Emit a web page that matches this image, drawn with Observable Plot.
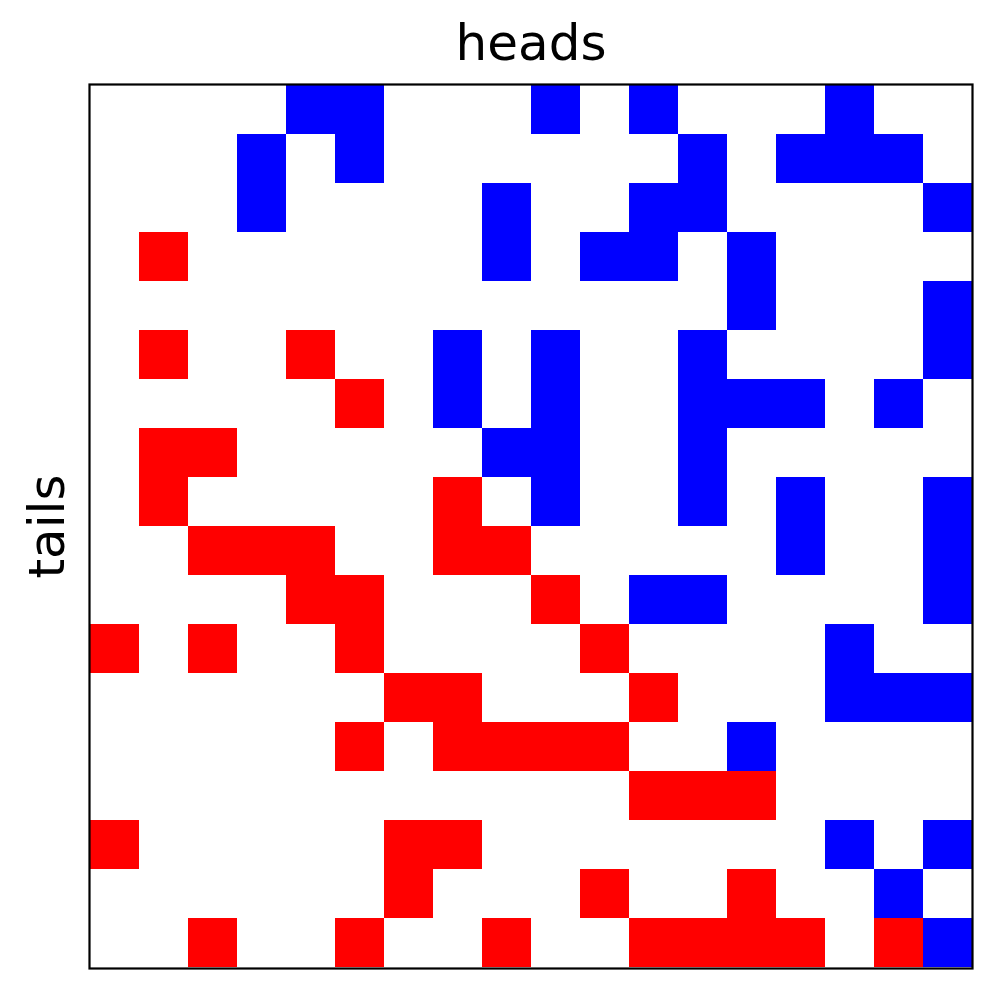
<!DOCTYPE html>
<html>
<head>
<meta charset="utf-8">
<script src="https://cdn.jsdelivr.net/npm/d3@7"></script>
<script src="https://cdn.jsdelivr.net/npm/@observablehq/plot@0.6"></script>
<style>
  html, body { margin: 0; padding: 0; background: #fff; }
</style>
</head>
<body>
<div id="chart"></div>
<script>
// Grid states, top row first: "H" = heads (blue), "T" = tails (red), "." = empty
const gridRows = [
  "....HH...H.H...H..",
  "...H.H......H.HHH.",
  "...H....H..HH....H",
  ".T......H.HH.H....",
  ".............H...H",
  ".T..T..H.H..H....H",
  ".....T.H.H..HHH.H.",
  ".TT.....HH..H.....",
  ".T.....T.H..H.H..H",
  "..TTT..TT.....H..H",
  "....TT...T.HH....H",
  "T.T..T....T....H..",
  "......TT...T...HHH",
  ".....T.TTTT..H....",
  "...........TTT....",
  "T.....TT.......H.H",
  "......T...T..T..H.",
  "..T..T..T..TTTT.TH"
];
const stateNames = {H: "heads", T: "tails"};
const stateColors = ["blue", "red"];
const titleText = "heads";
const yLabelText = "tails";

const n = gridRows.length;
const cells = [];
gridRows.forEach((row, r) => {
  [...row].forEach((ch, c) => {
    if (ch !== ".") cells.push({col: c, row: r, state: stateNames[ch]});
  });
});

const plot = Plot.plot({
  width: 997,
  height: 992,
  marginLeft: 89,
  marginRight: 25,
  marginTop: 84,
  marginBottom: 24,
  style: {fontFamily: "DejaVu Sans", background: "white"},
  x: {type: "band", domain: d3.range(n), padding: 0, axis: null},
  y: {type: "band", domain: d3.range(n), padding: 0, axis: null},
  color: {domain: ["heads", "tails"], range: stateColors},
  marks: [
    Plot.cell(cells, {x: "col", y: "row", fill: "state", inset: 0}),
    Plot.frame({stroke: "black", strokeWidth: 2.2}),
    Plot.text([titleText], {frameAnchor: "top", textAnchor: "middle", lineAnchor: "bottom", dy: -25, fontSize: 50, fill: "black"}),
    Plot.text([yLabelText], {frameAnchor: "left", textAnchor: "middle", lineAnchor: "bottom", rotate: -90, dx: -26, fontSize: 50, fill: "black"})
  ]
});
document.getElementById("chart").appendChild(plot);
</script>
</body>
</html>
